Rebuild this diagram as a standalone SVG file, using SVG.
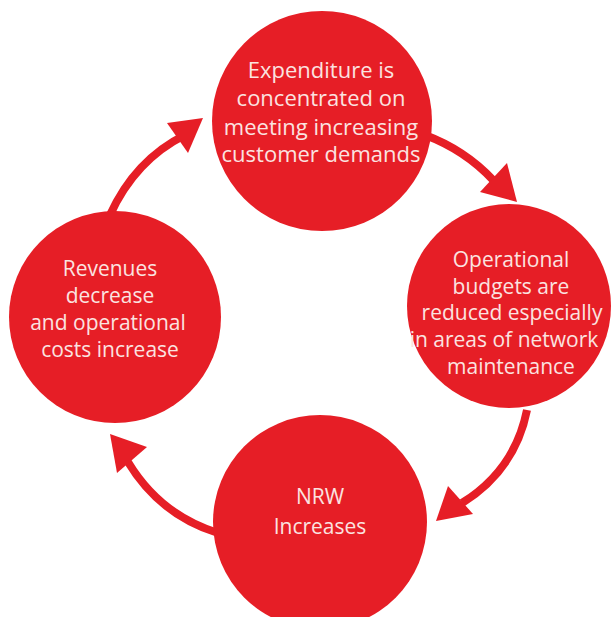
<svg xmlns="http://www.w3.org/2000/svg" width="615" height="617" viewBox="0 0 615 617">
<style>
.node circle{fill:#e61e26}
.node text{fill:#fbe3e0;font-family:"Open Sans","Liberation Sans",sans-serif;font-size:21px;text-anchor:middle}
.node text.big{font-size:22px}
.conn path{fill:none;stroke:#e61e26;stroke-width:8}
.conn polygon{fill:#e61e26}
</style>
<rect width="615" height="617" fill="#ffffff"/>
<g class="conn" id="connectors">
<path d="M 110 215 Q 135 160 185 135"/>
<polygon points="167,123 203,118 188,153"/>
<path d="M 425 135 Q 465 150 493 180"/>
<polygon points="480,192 507,163 517,202"/>
<path d="M 527 410 Q 515 470 462 503"/>
<polygon points="448,486 473,514 436,521"/>
<path d="M 218 533 Q 160 515 128 462"/>
<polygon points="110,434 147,447 117,473"/>
</g>
<g class="node" id="n-expenditure">
<circle cx="322" cy="121" r="110"/>
<text class="big" x="321" y="78">Expenditure is</text>
<text class="big" x="321" y="106">concentrated on</text>
<text class="big" x="321" y="135">meeting increasing</text>
<text class="big" x="321" y="162">customer demands</text>
</g>
<g class="node" id="n-operational">
<circle cx="509" cy="306" r="102"/>
<text x="511" y="267">Operational</text>
<text x="511" y="294">budgets are</text>
<text x="512" y="320">reduced especially</text>
<text x="504" y="347">in areas of network</text>
<text x="511" y="374">maintenance</text>
</g>
<g class="node" id="n-nrw">
<circle cx="320" cy="522" r="107"/>
<text x="320" y="504">NRW</text>
<text x="320" y="534">Increases</text>
</g>
<g class="node" id="n-revenues">
<circle cx="115" cy="317" r="106"/>
<text x="110" y="276">Revenues</text>
<text x="110" y="303">decrease</text>
<text x="108" y="330">and operational</text>
<text x="110" y="357">costs increase</text>
</g>
</svg>
